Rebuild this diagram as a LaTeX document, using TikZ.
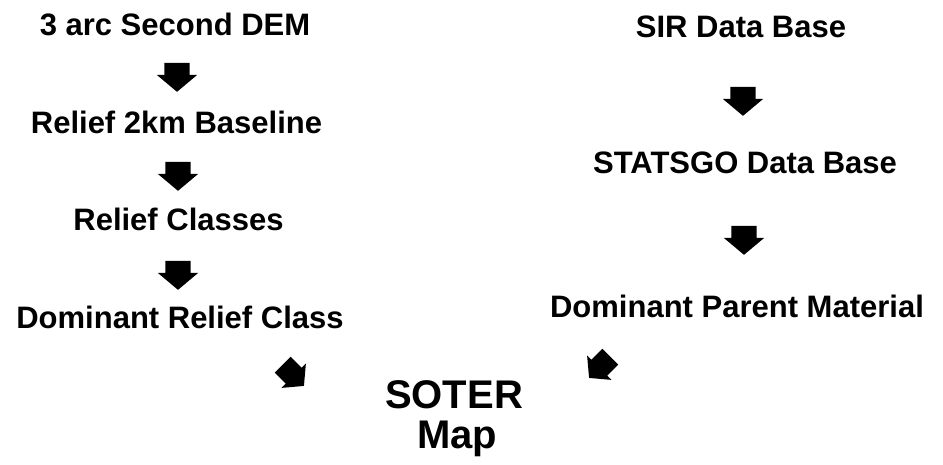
\documentclass[tikz,border=0pt]{standalone}
\usepackage{fontspec}
\setmainfont{Liberation Sans}
\usetikzlibrary{positioning, shapes.arrows}

\begin{document}
\begin{tikzpicture}[
  x=1pt, y=-1pt,
  stage/.style={font=\fontsize{31}{34}\selectfont\bfseries, anchor=base, inner sep=0pt},
  title/.style={font=\fontsize{40}{44}\selectfont\bfseries, anchor=base, inner sep=0pt},
  blkarrow/.style={single arrow, fill=black, draw=none, inner xsep=12.5pt, inner ysep=0pt,
    minimum height=29pt, single arrow head extend=7.5pt,
    single arrow tip angle=100, shape border rotate=270},
  tilted/.style={blkarrow, inner xsep=11pt, minimum height=30pt, single arrow head extend=6pt}
]
  \useasboundingbox (0,0) rectangle (943,464);

  % Relief column
  \node[stage] (dem) at (175, 35) {3 arc Second DEM};
  \node[blkarrow] (a1) at (177, 72) {};
  \node[stage] (base) at (176.5, 133) {Relief 2km Baseline};
  \node[blkarrow] (a2) at (178, 171) {};
  \node[stage] (cls) at (178.5, 230) {Relief Classes};
  \node[blkarrow] (a3) at (178, 270) {};
  \node[stage] (domrel) at (180, 328) {Dominant Relief Class};

  % Soil column
  \node[stage] (sir) at (741, 37) {SIR Data Base};
  \node[blkarrow] (b1) at (743, 96) {};
  \node[stage] (stat) at (745, 173) {STATSGO Data Base};
  \node[blkarrow] (b2) at (744, 235) {};
  \node[stage] (dompar) at (737, 317) {Dominant Parent Material};

  % Merge into the map
  \node[tilted, rotate=45] (c1) at (290, 372) {};
  \node[tilted, rotate=-45] (c2) at (603, 364) {};
  \node[title] (soter) at (454, 408) {SOTER};
  \node[title] (map) at (457, 448) {Map};

\end{tikzpicture}
\end{document}
